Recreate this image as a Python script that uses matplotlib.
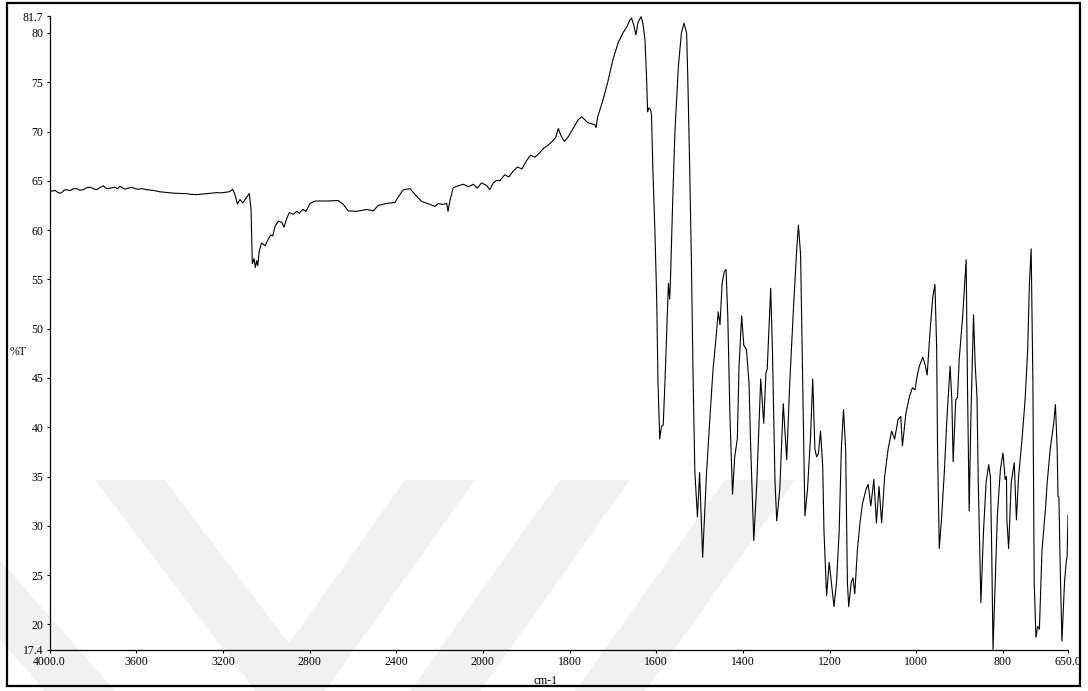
import numpy as np
import matplotlib
matplotlib.use("Agg")
import matplotlib.pyplot as plt
from matplotlib.patches import Rectangle, Polygon

plt.rcParams['font.family'] = ['Liberation Serif', 'DejaVu Serif']

# IR spectrum, wavenumber (cm-1) vs transmittance (%T)
wavenumber = [
    3998, 3985, 3975, 3967, 3955, 3944, 3932, 3921, 3905, 3890, 3874, 3860,
    3844, 3828, 3813, 3798, 3782, 3768, 3752, 3740, 3729, 3712, 3698, 3686,
    3675, 3664, 3652, 3636, 3621, 3605, 3590, 3570, 3551, 3532, 3513, 3495,
    3475, 3452, 3429, 3400, 3367, 3345, 3321, 3298, 3274, 3250, 3228, 3205,
    3182, 3168,
    3155, 3144, 3133, 3121, 3108, 3093, 3078, 3070, 3064, 3056, 3050, 3044,
    3039, 3032, 3021, 3005, 2990, 2979, 2970, 2959, 2944, 2928, 2918, 2905,
    2893, 2875, 2859, 2847, 2831, 2816, 2798, 2775, 2721, 2667, 2644, 2621,
    2582, 2536, 2506, 2483, 2444, 2406, 2390, 2367, 2336, 2313, 2282, 2244,
    2221, 2206, 2186, 2167, 2161, 2152, 2137, 2113, 2090, 2067, 2044, 2026,
    2006, 1991, 1984, 1976, 1968, 1961, 1950, 1940, 1930, 1920, 1910, 1900,
    1890, 1880, 1870, 1860, 1850, 1840, 1832, 1826, 1820, 1812, 1804, 1796,
    1788, 1780, 1772, 1765, 1758, 1750, 1742, 1739, 1735, 1723, 1712, 1700,
    1688, 1677, 1668, 1661, 1657, 1652, 1647, 1642, 1635, 1631, 1626, 1622,
    1620, 1617, 1613, 1611, 1608, 1603, 1599, 1596, 1592, 1588, 1584, 1580,
    1576, 1572, 1569, 1567, 1562, 1557, 1549, 1542, 1536, 1530, 1527, 1523,
    1519, 1515, 1511, 1505, 1500, 1493, 1484, 1476, 1469, 1462, 1457, 1453,
    1448, 1443, 1439, 1435, 1430, 1424, 1419, 1413, 1409, 1403, 1398, 1392,
    1386, 1382, 1375, 1368, 1359, 1352, 1347, 1344, 1336, 1332, 1326, 1322,
    1315, 1307, 1299, 1292, 1284, 1276, 1272, 1267, 1262, 1257, 1251, 1244,
    1239, 1234, 1230, 1226, 1221, 1216, 1213, 1207, 1201, 1196, 1190, 1184,
    1178, 1173, 1168, 1163, 1159, 1156, 1150, 1146, 1142, 1136, 1130, 1124,
    1116, 1111, 1105, 1098, 1092, 1086, 1080, 1073, 1065, 1057, 1050, 1042,
    1036, 1032, 1024, 1016, 1009, 1003, 998, 993, 985, 980, 975, 968,
    962, 957, 953, 951, 947, 942, 935, 930, 922, 918, 915, 909,
    905, 901, 893, 885, 882, 878, 874, 868, 864, 860, 857, 851,
    845, 839, 833, 829, 826, 823, 818, 813, 806, 800, 795, 792,
    791, 787, 781, 774, 769, 764, 756, 749, 743, 739, 735, 731,
    728, 724, 720, 716, 710, 702, 698, 691, 683, 679, 675, 673,
    671, 668, 664, 658, 654, 652, 650,
]
transmittance = [
    64.0, 63.95, 64.05, 63.9, 63.75, 63.8, 64.05, 64.1, 64.0, 64.2, 64.2, 64.05,
    64.1, 64.3, 64.35, 64.2, 64.1, 64.3, 64.5, 64.25, 64.2, 64.3, 64.35, 64.2,
    64.45, 64.3, 64.15, 64.25, 64.35, 64.2, 64.15, 64.2, 64.1, 64.05, 64.0, 63.9,
    63.85, 63.8, 63.75, 63.72, 63.7, 63.62, 63.6, 63.65, 63.7, 63.75, 63.8, 63.78,
    63.85, 63.9,
    64.15, 63.6, 62.65, 63.1, 62.75, 63.25, 63.7, 62.1, 56.6, 57.1, 56.2, 56.9,
    56.4, 57.9, 58.7, 58.4, 59.1, 59.5, 59.4, 60.4, 60.9, 60.8, 60.3, 61.2,
    61.8, 61.6, 61.9, 61.7, 62.1, 61.9, 62.7, 62.95, 62.95, 63.0, 62.6, 61.95,
    61.9, 62.1, 61.95, 62.5, 62.7, 62.8, 63.4, 64.1, 64.2, 63.6, 62.9, 62.6,
    62.4, 62.7, 62.6, 62.7, 61.9, 63.0, 64.3, 64.5, 64.65, 64.4, 64.65, 64.25,
    64.8, 64.5, 64.1, 64.8, 65.05, 65.0, 65.6, 65.4, 66.0, 66.4, 66.2, 67.0,
    67.6, 67.4, 67.8, 68.3, 68.6, 69.0, 69.4, 70.3, 69.6, 69.0, 69.4, 70.0,
    70.6, 71.2, 71.5, 71.2, 70.9, 70.8, 70.7, 70.4, 71.5, 73.2, 75.0, 77.3,
    79.0, 80.0, 80.6, 81.3, 81.5, 80.8, 79.8, 81.1, 81.65, 81.0, 79.3, 75.0,
    72.0, 72.4, 72.2, 71.7, 66.4, 59.7, 53.0, 44.5, 38.8, 40.1, 40.2, 44.5,
    49.6, 54.6, 53.0, 55.3, 63.1, 69.9, 76.6, 80.0, 81.0, 80.0, 75.0, 66.5,
    57.0, 45.0, 35.5, 30.9, 35.4, 26.8, 35.4, 41.1, 45.9, 49.1, 51.7, 50.4,
    54.6, 55.8, 56.0, 51.3, 41.1, 33.2, 37.0, 38.8, 46.2, 51.3, 48.3, 47.9,
    44.5, 37.8, 28.5, 34.4, 44.9, 40.4, 45.5, 45.9, 54.1, 47.9, 34.4, 30.5,
    33.7, 42.4, 36.7, 44.5, 51.6, 58.0, 60.5, 57.5, 44.5, 31.0, 33.7, 39.1,
    44.9, 37.8, 37.0, 37.3, 39.6, 36.1, 29.4, 22.9, 26.3, 24.3, 21.8, 24.3,
    29.4, 37.8, 41.8, 37.8, 24.3, 21.8, 24.3, 24.7, 23.1, 27.5, 30.3, 32.3,
    33.7, 34.2, 32.0, 34.7, 30.3, 34.0, 30.3, 35.0, 37.8, 39.6, 38.8, 40.8,
    41.1, 38.1, 41.4, 43.1, 44.0, 43.8, 45.2, 46.2, 47.1, 46.4, 45.3, 49.9,
    53.2, 54.5, 47.9, 37.8, 27.7, 30.6, 35.7, 40.4, 46.2, 42.8, 36.5, 42.8,
    43.0, 46.9, 51.3, 57.0, 44.5, 31.5, 41.1, 51.4, 46.2, 43.1, 34.4, 22.2,
    29.4, 34.4, 36.2, 35.0, 27.5, 17.45, 24.3, 31.0, 35.7, 37.4, 34.7, 35.0,
    30.6, 27.7, 34.4, 36.4, 30.6, 35.0, 38.8, 42.8, 47.9, 54.6, 58.1, 44.5,
    24.3, 18.7, 19.8, 19.5, 27.5, 31.7, 34.4, 37.8, 40.4, 42.3, 37.8, 33.0,
    32.9, 25.9, 18.3, 24.3, 26.4, 26.9, 31.1,
]

xticks = [4000, 3600, 3200, 2800, 2400, 2000, 1800, 1600, 1400, 1200, 1000, 800, 650]
xtick_labels = ['4000.0', '3600', '3200', '2800', '2400', '2000', '1800',
                '1600', '1400', '1200', '1000', '800', '650.0']
yticks = [17.4, 20, 25, 30, 35, 40, 45, 50, 55, 60, 65, 70, 75, 80, 81.7]
ytick_labels = ['17.4', '20', '25', '30', '35', '40', '45', '50', '55',
                '60', '65', '70', '75', '80', '81.7']


# below 2000 cm-1 the axis is stretched twice as much
def fwd(x):
    x = np.asarray(x, dtype=float)
    return np.where(x > 2000, 2000 + (x - 2000) / 2, x)


def inv(y):
    y = np.asarray(y, dtype=float)
    return np.where(y > 2000, 2000 + (y - 2000) * 2, y)


W, H = 1088, 691
fig = plt.figure(figsize=(W / 100, H / 100), dpi=100)

# faint diagonal stripes in the background (pixel coords, origin top-left)
stripes = [
    [(0, 560), (0, 640), (45, 691), (115, 691)],
    [(95, 480), (165, 480), (325, 691), (255, 691)],
    [(405, 480), (475, 480), (325, 691), (255, 691)],
    [(560, 480), (630, 480), (480, 691), (410, 691)],
    [(725, 480), (795, 480), (645, 691), (575, 691)],
]
for pts in stripes:
    fig.patches.append(Polygon([(x / W, 1 - y / H) for x, y in pts], closed=True,
                               transform=fig.transFigure, facecolor='#f1f1f1',
                               edgecolor='none', zorder=-5))

# outer frame
fig.patches.append(Rectangle((7 / W, 5 / H), 1073 / W, 683 / H, transform=fig.transFigure,
                             fill=False, edgecolor='black', linewidth=1.6, zorder=5))

ax = fig.add_axes([49.5 / W, 41 / H, (1068 - 49.5) / W, (650 - 16.2) / H])
ax.set_zorder(2)
ax.patch.set_alpha(0)
ax.set_xscale('function', functions=(fwd, inv))
ax.plot(wavenumber, transmittance, color='black', linewidth=0.8)
ax.set_xlim(4000, 650)
ax.set_ylim(17.4, 81.7)

ax.set_xticks(xticks)
ax.set_xticklabels(xtick_labels)
ax.set_yticks(yticks)
ax.set_yticklabels(ytick_labels)
ax.minorticks_off()
ax.tick_params(direction='out', length=2.5, width=0.8, labelsize=8.5, pad=2, colors='black')

for side in ['top', 'right']:
    ax.spines[side].set_visible(False)
for side in ['left', 'bottom']:
    ax.spines[side].set_linewidth(0.9)

fig.text(10 / W, 1 - 352 / H, '%T', fontsize=8.5, va='center', ha='left')
fig.text(545 / W, 1 - 681 / H, 'cm-1', fontsize=8.5, va='center', ha='center')

fig.savefig('out.png', dpi=100)
